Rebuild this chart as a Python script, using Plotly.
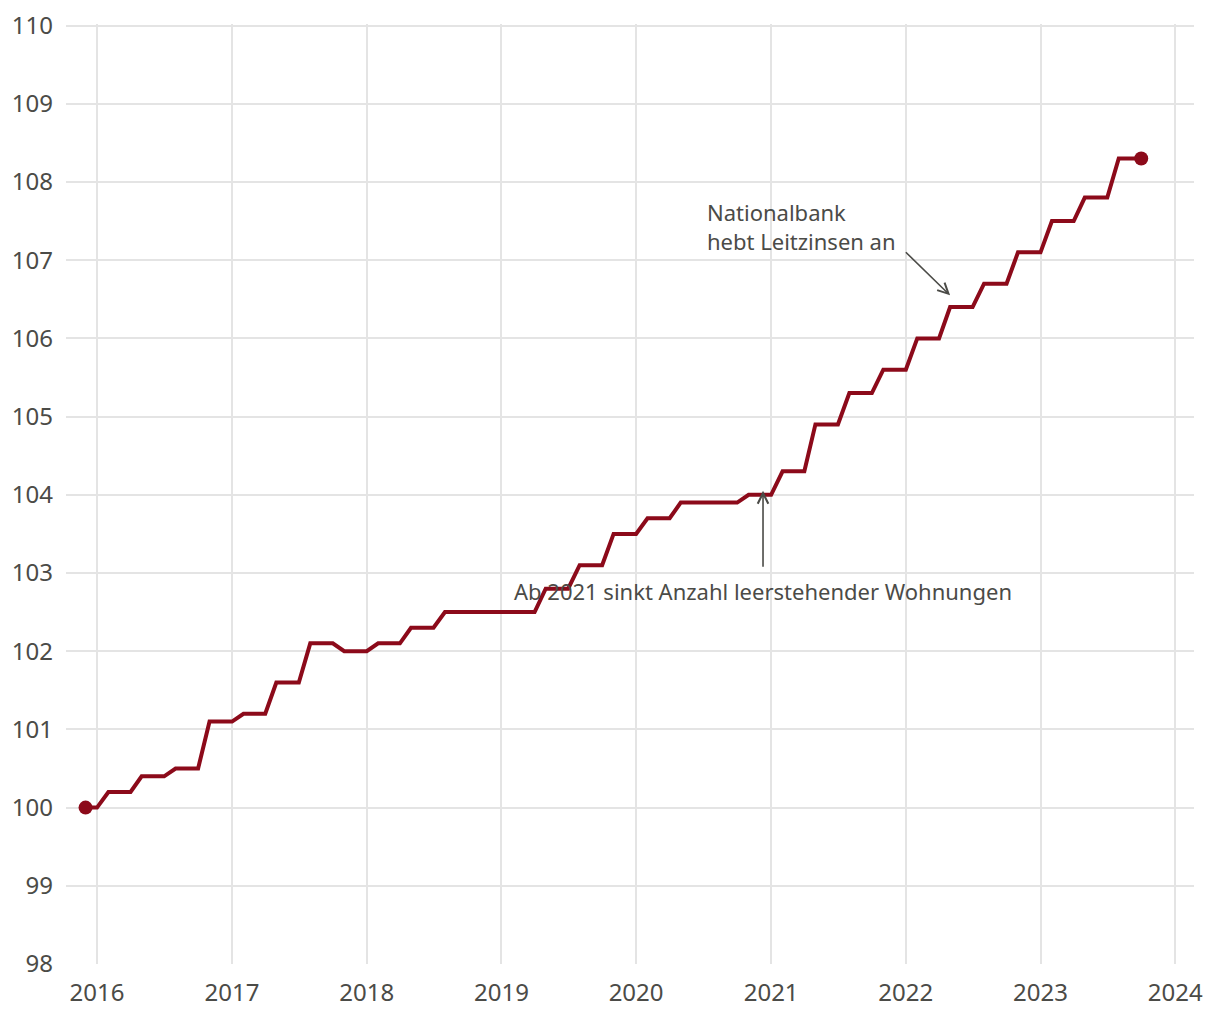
import pandas as pd
import plotly.graph_objects as go

# Monthly index values, Dec 2015 .. Oct 2023
start_month = "2015-12-01"
values = [
    100.0,                                                                      # 2015-12
    100.0, 100.2, 100.2, 100.2, 100.4, 100.4, 100.4, 100.5, 100.5, 100.5, 101.1, 101.1,  # 2016
    101.1, 101.2, 101.2, 101.2, 101.6, 101.6, 101.6, 102.1, 102.1, 102.1, 102.0, 102.0,  # 2017
    102.0, 102.1, 102.1, 102.1, 102.3, 102.3, 102.3, 102.5, 102.5, 102.5, 102.5, 102.5,  # 2018
    102.5, 102.5, 102.5, 102.5, 102.8, 102.8, 102.8, 103.1, 103.1, 103.1, 103.5, 103.5,  # 2019
    103.5, 103.7, 103.7, 103.7, 103.9, 103.9, 103.9, 103.9, 103.9, 103.9, 104.0, 104.0,  # 2020
    104.0, 104.3, 104.3, 104.3, 104.9, 104.9, 104.9, 105.3, 105.3, 105.3, 105.6, 105.6,  # 2021
    105.6, 106.0, 106.0, 106.0, 106.4, 106.4, 106.4, 106.7, 106.7, 106.7, 107.1, 107.1,  # 2022
    107.1, 107.5, 107.5, 107.5, 107.8, 107.8, 107.8, 108.3, 108.3, 108.3,                # 2023
]
dates = pd.date_range(start_month, periods=len(values), freq="MS")

year_ticks = [f"{y}-01-01" for y in range(2016, 2025)]
year_labels = [str(y) for y in range(2016, 2025)]
y_ticks = list(range(98, 111))

note1 = "Ab 2021 sinkt Anzahl leerstehender Wohnungen"
note2 = "Nationalbank<br>hebt Leitzinsen an"

RED = "#8c0a1a"
TXT = "#4b4b47"
GRID = "#e4e4e4"
FONT = "Noto Sans"

fig = go.Figure()
fig.add_trace(go.Scatter(
    x=dates, y=values, mode="lines",
    line=dict(color=RED, width=4), hoverinfo="skip", showlegend=False,
))
fig.add_trace(go.Scatter(
    x=[dates[0], dates[-1]], y=[values[0], values[-1]], mode="markers",
    marker=dict(color=RED, size=14), hoverinfo="skip", showlegend=False,
    cliponaxis=False,
))

# arrows
fig.add_annotation(x="2020-12-10", y=104.05, ax="2020-12-10", ay=103.06,
                   xref="x", yref="y", axref="x", ayref="y", text="",
                   showarrow=True, arrowhead=5, arrowsize=1.3, arrowwidth=1.6,
                   arrowcolor=TXT)
fig.add_annotation(x="2022-05-01", y=106.55, ax="2021-12-28", ay=107.12,
                   xref="x", yref="y", axref="x", ayref="y", text="",
                   showarrow=True, arrowhead=5, arrowsize=1.3, arrowwidth=1.6,
                   arrowcolor=TXT)
# texts
fig.add_annotation(x="2020-12-10", y=102.77, xref="x", yref="y", text=note1,
                   showarrow=False, xanchor="center", yanchor="middle",
                   font=dict(family=FONT, size=22, color=TXT))
fig.add_annotation(x="2020-07-06", y=107.43, xref="x", yref="y", text=note2,
                   showarrow=False, xanchor="left", yanchor="middle", align="left",
                   font=dict(family=FONT, size=22, color=TXT))

# page body adds an 8px offset; compensate in margins
fig.update_layout(
    width=1212, height=1012,
    margin=dict(l=58, r=26, t=16, b=56),
    paper_bgcolor="white", plot_bgcolor="white",
    font=dict(family=FONT, color=TXT, size=22),
)
fig.update_xaxes(
    type="date", range=["2015-10-09", "2024-02-21"],
    tickvals=year_ticks, ticktext=year_labels,
    showgrid=True, gridcolor=GRID, gridwidth=2,
    showline=False, zeroline=False, ticks="", automargin=False,
    ticklabeloverflow="allow",
    tickfont=dict(family=FONT, size=24, color=TXT), ticklabelstandoff=12,
)
fig.update_yaxes(
    range=[98, 110.02], tickvals=y_ticks,
    showgrid=True, gridcolor=GRID, gridwidth=2,
    showline=False, zeroline=False, ticks="", automargin=False,
    ticklabeloverflow="allow",
    tickfont=dict(family=FONT, size=24, color=TXT), ticklabelstandoff=12,
)

fig.write_html("out.html")
